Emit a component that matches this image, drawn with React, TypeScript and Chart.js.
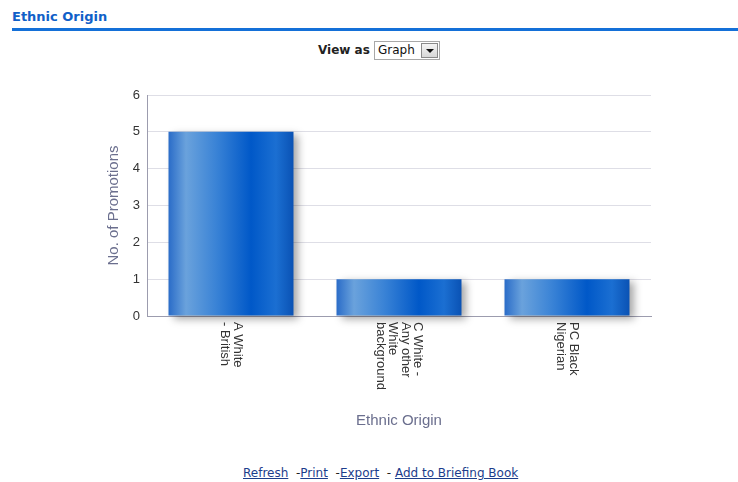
import React, { useEffect, useRef } from "react";
import { Chart, registerables } from "chart.js";

Chart.register(...registerables);

const categoryKeys = ["A White - British", "C White - Any other White background", "PC Black Nigerian"];
const categoryLines = [["A White", "- British"], ["C White -", "Any other", "White", "background"], ["PC Black", "Nigerian"]];
const promotions = [5, 1, 1];
const yMin = 0;
const yMax = 6;
const yStep = 1;

const BAR_PCT = 0.744;

const barFill = (c: any) => {
  const chart = c.chart;
  const xs = chart.scales && chart.scales.x;
  if (!chart.chartArea || !xs) return "#1a6fd0";
  const cx = xs.getPixelForValue(c.dataIndex);
  const w = ((xs.right - xs.left) / categoryKeys.length) * BAR_PCT;
  const g = chart.ctx.createLinearGradient(cx - w / 2, 0, cx + w / 2, 0);
  g.addColorStop(0, "#2a6cc8");
  g.addColorStop(0.14, "#6aa2dc");
  g.addColorStop(0.38, "#3a83d6");
  g.addColorStop(0.66, "#0058c8");
  g.addColorStop(0.86, "#1b6fd2");
  g.addColorStop(1, "#0a52b4");
  return g;
};

const shadowPlugin = {
  id: "barShadow",
  beforeDatasetsDraw(chart: any) {
    const ctx = chart.ctx;
    ctx.save();
    ctx.shadowColor = "rgba(0,0,0,0.35)";
    ctx.shadowBlur = 8;
    ctx.shadowOffsetX = 5;
    ctx.shadowOffsetY = 3;
  },
  afterDatasetsDraw(chart: any) {
    chart.ctx.restore();
  },
};

const labelPlugin = {
  id: "rotLabels",
  afterDraw(chart: any) {
    const ctx = chart.ctx;
    const xs = chart.scales.x;
    const lh = 12.5;
    ctx.save();
    ctx.font = "13px 'Liberation Sans', Arial, sans-serif";
    ctx.fillStyle = "#333333";
    ctx.textAlign = "left";
    ctx.textBaseline = "middle";
    categoryLines.forEach((lines, i) => {
      const cx = xs.getPixelForTick(i);
      const n = lines.length;
      ctx.save();
      ctx.translate(cx, xs.top + 6);
      ctx.rotate(Math.PI / 2);
      lines.forEach((ln, j) => {
        ctx.fillText(ln, 0, (j - (n - 1) / 2) * lh);
      });
      ctx.restore();
    });
    ctx.restore();
  },
};

function ChartCanvas() {
  const ref = useRef<HTMLCanvasElement | null>(null);
  useEffect(() => {
    if (!ref.current) return;
    const chart = new Chart(ref.current, {
      type: "bar",
      data: {
        labels: categoryKeys,
        datasets: [
          {
            label: "No. of Promotions",
            data: promotions,
            backgroundColor: barFill as any,
            borderWidth: 0,
            barPercentage: BAR_PCT,
            categoryPercentage: 1,
            clip: false as any,
          },
        ],
      },
      options: {
        animation: false,
        responsive: false,
        layout: { padding: { left: 105, right: 87, top: 25, bottom: 20 } },
        plugins: { legend: { display: false }, tooltip: { enabled: false } },
        scales: {
          x: {
            grid: { display: false, drawTicks: false },
            border: { display: true, color: "#9c9cae", width: 1 },
            ticks: { display: false },
            title: {
              display: true,
              text: "Ethnic Origin",
              color: "#6b6f8e",
              font: { family: "'Liberation Sans', Arial, sans-serif", size: 15 },
              padding: 0,
            },
            afterFit: (s: any) => {
              s.height = 114;
            },
          },
          y: {
            min: yMin,
            max: yMax,
            grid: { color: "#dedee6", drawTicks: false },
            border: { display: true, color: "#9c9cae", width: 1 },
            ticks: {
              stepSize: yStep,
              padding: 7,
              color: "#333333",
              font: { family: "'Liberation Sans', Arial, sans-serif", size: 13 },
            },
            title: {
              display: true,
              text: "No. of Promotions",
              color: "#6b6f8e",
              font: { family: "'Liberation Sans', Arial, sans-serif", size: 15 },
              padding: 0,
            },
            afterFit: (s: any) => {
              s.width = 42;
            },
          },
        },
      },
      plugins: [shadowPlugin, labelPlugin],
    });
    return () => chart.destroy();
  }, []);
  return <canvas ref={ref} width={738} height={380} style={{ display: "block" }} />;
}

const linkStyle: React.CSSProperties = { color: "#1c3d8c", textDecoration: "underline" };

export default function App() {
  return (
    <div style={{ position: "absolute", left: 0, top: 0, width: 738, height: 482, background: "#fff", overflow: "hidden" }}>
      <div
        style={{
          position: "absolute",
          left: 12,
          top: 9,
          font: "bold 13px 'DejaVu Sans', Tahoma, sans-serif",
          color: "#1060c8",
        }}
      >
        Ethnic Origin
      </div>
      <div style={{ position: "absolute", left: 12, top: 28, width: 726, height: 3, background: "#1470d8" }} />
      <div
        style={{
          position: "absolute",
          left: 318,
          top: 43,
          font: "bold 12px 'DejaVu Sans', Tahoma, sans-serif",
          color: "#222",
        }}
      >
        View as
      </div>
      <div
        style={{
          position: "absolute",
          left: 374,
          top: 41,
          width: 64,
          height: 17,
          border: "1px solid #a8a8a8",
          background: "#fff",
        }}
      >
        <div
          style={{
            position: "absolute",
            left: 3,
            top: 1,
            font: "12px 'DejaVu Sans', Tahoma, sans-serif",
            color: "#111",
          }}
        >
          Graph
        </div>
        <div
          style={{
            position: "absolute",
            right: 1,
            top: 1,
            width: 17,
            height: 15,
            background: "linear-gradient(#f4f4f4,#d8d8d8)",
            border: "1px solid #8a8a8a",
            boxSizing: "border-box",
          }}
        >
          <div
            style={{
              position: "absolute",
              left: 4,
              top: 5,
              width: 0,
              height: 0,
              borderLeft: "4px solid transparent",
              borderRight: "4px solid transparent",
              borderTop: "4px solid #111",
            }}
          />
        </div>
      </div>
      <div style={{ position: "absolute", left: 0, top: 70 }}>
        <ChartCanvas />
      </div>
      <div
        style={{
          position: "absolute",
          left: 243,
          top: 466,
          font: "12px 'DejaVu Sans', Tahoma, sans-serif",
          color: "#222",
          whiteSpace: "pre",
        }}
      >
        <a style={linkStyle}>Refresh</a>
        {"  -"}
        <a style={linkStyle}>Print</a>
        {"  -"}
        <a style={linkStyle}>Export</a>
        {"  - "}
        <a style={linkStyle}>Add to Briefing Book</a>
      </div>
    </div>
  );
}
